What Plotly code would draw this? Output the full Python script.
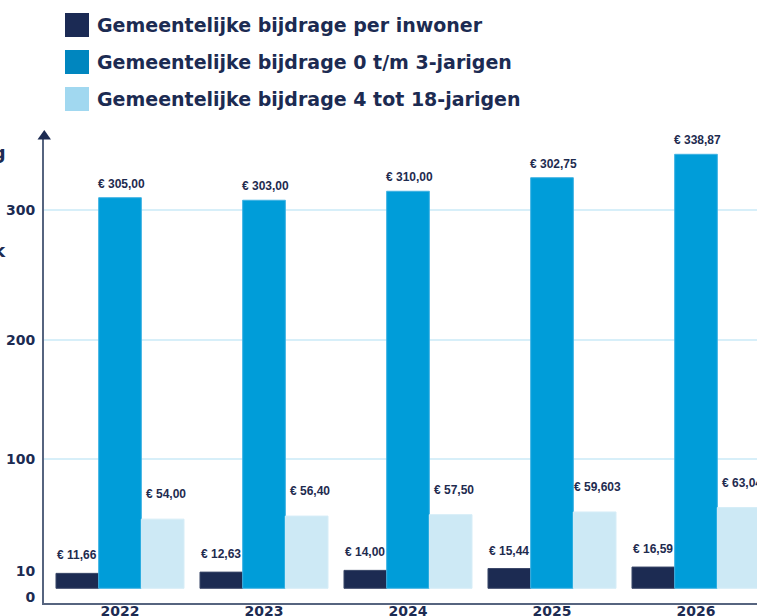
import plotly.graph_objects as go

# ---------------- data ----------------
years = ["2022", "2023", "2024", "2025", "2026"]
series_names = [
    "Gemeentelijke bijdrage per inwoner",
    "Gemeentelijke bijdrage 0 t/m 3-jarigen",
    "Gemeentelijke bijdrage 4 tot 18-jarigen",
]
per_inwoner = [11.66, 12.63, 14.00, 15.44, 16.59]
jarigen_0_3 = [305.00, 303.00, 310.00, 320.6, 338.87]   # bar heights as drawn
jarigen_4_18 = [54.00, 56.40, 57.50, 59.603, 63.04]
labels_inwoner = ["€ 11,66", "€ 12,63", "€ 14,00", "€ 15,44", "€ 16,59"]
labels_0_3 = ["€ 305,00", "€ 303,00", "€ 310,00", "€ 302,75", "€ 338,87"]
labels_4_18 = ["€ 54,00", "€ 56,40", "€ 57,50", "€ 59,603", "€ 63,04"]
y_tick_labels = ["0", "10", "100", "200", "300"]
grid_labels = ["100", "200", "300"]

# ---------------- geometry ----------------
W, H = 757, 616
L, R, T, B = 44, 0, 136, 13
PW, PH = W - L - R, H - T - B
PX_PER_UNIT = 1.2807
BASE_PX = 588.3
Y0 = -((H - B) - BASE_PX) / PX_PER_UNIT
Y1 = Y0 + PH / PX_PER_UNIT
X0 = (L - 120) / 144
X1 = (W - R - 120) / 144


def val_at(py):
    return Y0 + ((H - B) - py) / PX_PER_UNIT


def px_x(px):
    return (px - L) / PW


def px_y(py):
    return ((H - B) - py) / PH


tick_px = {"0": 597, "10": 571, "100": 459, "200": 340, "300": 210}

NAVY = "#1c2b52"
BLUE = "#009dd9"
LIGHT = "#cde9f5"
LEG_COLORS = ["#1b2a54", "#0086bf", "#a1d8f0"]
TXT = "#1e2b4f"

xs = list(range(len(years)))
fig = go.Figure()
colors = [NAVY, BLUE, LIGHT]
lines = ["#3b4869", "#3fb2e3", "#d6edf7"]
all_vals = [per_inwoner, jarigen_0_3, jarigen_4_18]
all_labels = [labels_inwoner, labels_0_3, labels_4_18]
for k in range(3):
    fig.add_trace(go.Bar(
        x=xs, y=all_vals[k], name=series_names[k],
        marker=dict(color=colors[k], line=dict(color=lines[k], width=1)),
        showlegend=False, hoverinfo="skip",
    ))

bargap = 0.111
bw = (1 - bargap) / 3
yshifts = [18, 14, 25]
xshifts = [0, 1, 3]
for k in range(3):
    for i in xs:
        fig.add_annotation(
            x=i + (k - 1) * bw, y=all_vals[k][i], xref="x", yref="y",
            text=all_labels[k][i], showarrow=False,
            yanchor="middle", xanchor="center",
            yshift=yshifts[k], xshift=xshifts[k],
            font=dict(family="Liberation Sans", size=12, color=TXT, weight="bold"),
        )

shapes = []
# grid lines
for g in grid_labels:
    shapes.append(dict(type="line", xref="paper", yref="y", x0=0, x1=1,
                       y0=val_at(tick_px[g]), y1=val_at(tick_px[g]),
                       line=dict(color="#d7eff9", width=2), layer="below"))
# arrow head on y axis
shapes.append(dict(type="path", xref="paper", yref="paper",
                   path=f"M {px_x(44.3)},{px_y(130)} L {px_x(37.5)},{px_y(139.5)} L {px_x(51)},{px_y(139.5)} Z",
                   fillcolor=NAVY, line=dict(width=0)))
# legend swatches
leg_rows = [25, 62, 99]
for k in range(3):
    shapes.append(dict(type="rect", xref="paper", yref="paper",
                       x0=px_x(65), x1=px_x(89),
                       y0=px_y(leg_rows[k] + 12), y1=px_y(leg_rows[k] - 12),
                       fillcolor=LEG_COLORS[k], line=dict(width=0)))
    fig.add_annotation(x=px_x(95), y=px_y(leg_rows[k]), xref="paper", yref="paper",
                       text=series_names[k], showarrow=False,
                       xanchor="left", yanchor="middle",
                       font=dict(family="DejaVu Sans", size=19, color=NAVY, weight="bold"))

# cut-off axis title fragments on the left
for txt, py in [("Bedrag", 152), ("per stuk", 250)]:
    fig.add_annotation(x=px_x(8), y=px_y(py), xref="paper", yref="paper",
                       text=txt, showarrow=False, xanchor="right", yanchor="middle",
                       font=dict(family="DejaVu Sans", size=18, color=NAVY, weight="bold"))

fig.update_layout(
    width=W, height=H, autosize=False,
    margin=dict(l=L, r=R, t=T, b=B, pad=0, autoexpand=False),
    paper_bgcolor="white", plot_bgcolor="white",
    barmode="group", bargap=bargap, bargroupgap=0,
    shapes=shapes,
    showlegend=False,
    xaxis=dict(range=[X0, X1], tickvals=xs, ticktext=years, showgrid=False,
               zeroline=False, showline=True, linecolor="#56647f", linewidth=2,
               ticks="", automargin=False, ticklabelstandoff=-6,
               tickfont=dict(family="DejaVu Sans", size=14, color=NAVY, weight="bold"),
               fixedrange=True),
    yaxis=dict(range=[Y0, Y1], tickvals=[val_at(tick_px[t]) for t in y_tick_labels],
               ticktext=y_tick_labels, showgrid=False, zeroline=False,
               showline=True, linecolor="#56647f", linewidth=2, ticks="",
               ticklabelstandoff=4, automargin=False,
               tickfont=dict(family="DejaVu Sans", size=14, color=NAVY, weight="bold"),
               fixedrange=True),
)

fig.write_html("out.html", config={"displayModeBar": False},
               post_script="document.body.style.margin='0';document.body.style.overflow='hidden';")
